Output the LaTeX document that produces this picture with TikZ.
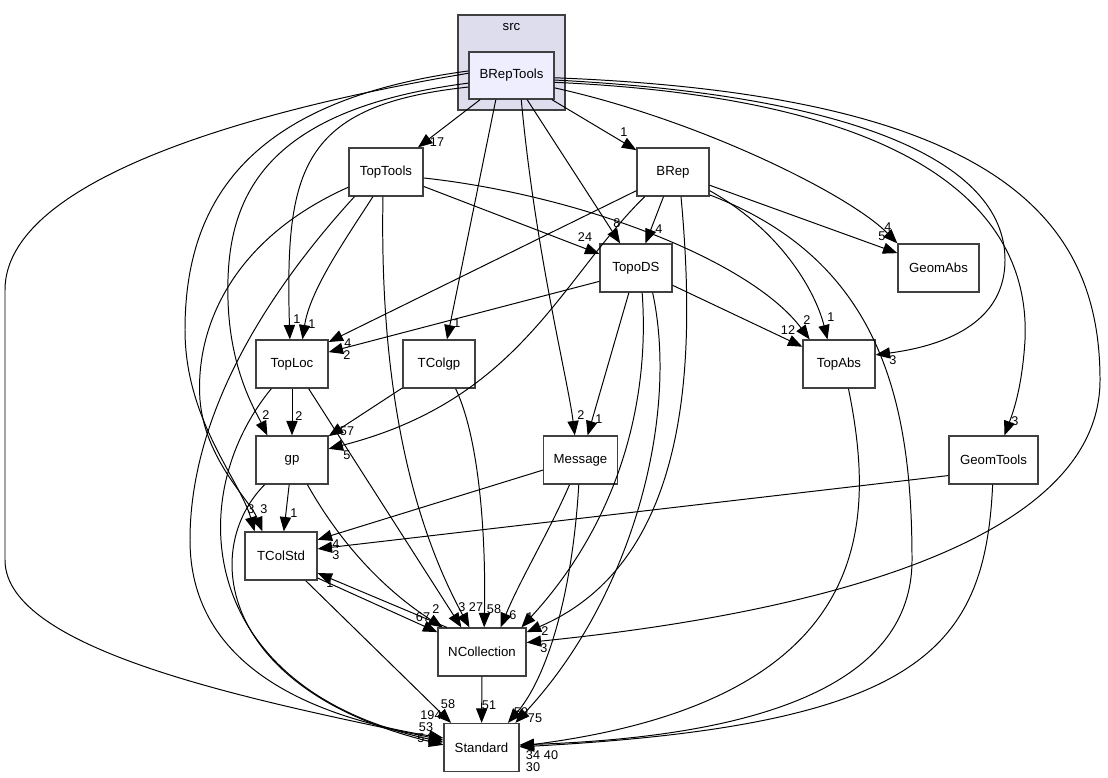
\documentclass[tikz,border=0pt]{standalone}
\usepackage{fontspec}
\setmainfont{Liberation Sans}
\usetikzlibrary{arrows.meta}
\definecolor{ink}{HTML}{000000}
\definecolor{boxline}{HTML}{404040}
\definecolor{grpfill}{HTML}{DDDDEE}
\definecolor{curfill}{HTML}{EEEEFF}

\begin{document}
\begin{tikzpicture}[x=0.025cm,y=-0.025cm, every node/.style={font=\fontsize{9.4}{11}\selectfont,inner sep=0pt}, dirbox/.style={draw=boxline,fill=white,line width=0.9pt,minimum width=1.8cm,minimum height=1.2cm}, cur/.style={dirbox,fill=curfill,minimum width=2.125cm,minimum height=1.175cm}, grp/.style={draw=boxline,fill=grpfill,line width=0.9pt,minimum width=2.675cm,minimum height=2.375cm}, dep/.style={draw=ink,line width=0.7pt,-{Triangle[length=3.6mm,width=2.8mm]}}, lbl/.style={font=\fontsize{9}{10}\selectfont}]
\useasboundingbox (0,0) rectangle (1108,777);
% directories
\node[grp] (src) at (511.5,62.5) {};
\node (srcname) at (511.5,27) {src};
\node[cur] (BRepTools) at (511.5,75.5) {BRepTools};
\node[dirbox,minimum width=1.85cm] (TopTools) at (386,172) {TopTools};
\node[dirbox] (BRep) at (673,172) {BRep};
\node[dirbox] (TopoDS) at (636,268) {TopoDS};
\node[dirbox,minimum width=2.025cm] (GeomAbs) at (938.5,268) {GeomAbs};
\node[dirbox] (TopLoc) at (292,364) {TopLoc};
\node[dirbox] (TColgp) at (439,364) {TColgp};
\node[dirbox] (TopAbs) at (839,364) {TopAbs};
\node[dirbox] (gp) at (292,460) {gp};
\node[dirbox,minimum width=1.85cm] (Message) at (580.5,460) {Message};
\node[dirbox,minimum width=2.225cm] (GeomTools) at (993.5,460) {GeomTools};
\node[dirbox] (TColStd) at (281,556) {TColStd};
\node[dirbox,minimum width=2.2cm] (NCollection) at (482,652) {NCollection};
\node[dirbox,minimum width=1.875cm] (Standard) at (481.5,747.5) {Standard};
% BRepTools
\draw[dep] (BRepTools) -- (TopTools) node[lbl] at (437,142) {17};
\draw[dep] (BRepTools) -- (BRep) node[lbl] at (624,132) {1};
\draw[dep] (BRepTools) -- (TopoDS) node[lbl] at (617,223) {8};
\draw[dep] (BRepTools.-16) .. controls (700,120) and (850,195) .. (GeomAbs.north west) node[lbl] at (888,227) {4};
\draw[dep] (BRepTools.195) .. controls (300,105) and (285,170) .. (TopLoc.95) node[lbl] at (297,319) {1};
\draw[dep] (BRepTools.237) -- (TColgp.72) node[lbl] at (457,323) {1};
\draw[dep] (BRepTools.-6) .. controls (850,95) and (1005,160) .. (1005,260) .. controls (1005,320) and (950,345) .. (TopAbs.14) node[lbl] at (893,360) {3};
\draw[dep] (BRepTools.190) .. controls (260,110) and (225,200) .. (228,300) .. controls (230,370) and (255,410) .. (gp.135) node[lbl] at (266,415) {2};
\draw[dep] (BRepTools.292) .. controls (535,250) and (568,380) .. (Message.103) node[lbl] at (581,415) {2};
\draw[dep] (BRepTools.-9) .. controls (950,100) and (1030,230) .. (1025,340) .. controls (1022,390) and (1012,415) .. (GeomTools.66) node[lbl] at (1015,421) {3};
\draw[dep] (BRepTools.174) .. controls (250,100) and (185,200) .. (185,330) .. controls (185,420) and (240,480) .. (TColStd.137) node[lbl] at (251,509) {3};
\draw[dep] (BRepTools.-3) .. controls (1000,95) and (1100,220) .. (1100,380) .. controls (1100,560) and (750,620) .. (NCollection.12) node[lbl] at (544,648) {3};
\draw[dep] (BRepTools.177) .. controls (250,110) and (5,180) .. (5,290) -- (5,560) .. controls (5,650) and (250,700) .. (Standard.169) node[lbl] at (421,738) {5};
% TopTools
\draw[dep] (TopTools) -- (TopoDS) node[lbl] at (585,237) {24};
\draw[dep] (TopTools.-9) .. controls (580,195) and (750,260) .. (TopAbs.140) node[lbl] at (807,320) {2};
\draw[dep] (TopTools.242) .. controls (345,240) and (310,290) .. (TopLoc.67) node[lbl] at (312,324) {1};
\draw[dep] (TopTools.202) .. controls (230,240) and (195,330) .. (200,400) .. controls (205,460) and (250,500) .. (TColStd.127) node[lbl] at (264,509) {3};
\draw[dep] (TopTools.263) .. controls (380,350) and (400,500) .. (NCollection.117) node[lbl] at (476,607) {27};
\draw[dep] (TopTools.218) .. controls (260,300) and (190,420) .. (190,540) .. controls (190,660) and (300,715) .. (Standard.166) node[lbl] at (431,715) {194};
% TopLoc
\draw[dep] (TopLoc) -- (gp) node[lbl] at (299,416) {2};
\draw[dep] (TopLoc.-56) -- (NCollection.130) node[lbl] at (462,607) {3};
\draw[dep] (TopLoc.230) .. controls (180,500) and (200,690) .. (Standard.172) node[lbl] at (426,727) {53};
% TColgp
\draw[dep] (TColgp) -- (gp) node[lbl] at (347,431) {57};
\draw[dep] (TColgp.-56) .. controls (480,440) and (486,540) .. (NCollection.85) node[lbl] at (494,609) {58};
% gp
\draw[dep] (gp) -- (TColStd) node[lbl] at (294,513) {1};
\draw[dep] (gp.-58) .. controls (350,560) and (400,600) .. (NCollection.148) node[lbl] at (436,609) {2};
\draw[dep] (gp.222) .. controls (200,550) and (220,690) .. (Standard.176) node[lbl] at (431,738) {3};
% BRep
\draw[dep] (BRep) -- (TopoDS) node[lbl] at (659,229) {4};
\draw[dep] (BRep) -- (GeomAbs) node[lbl] at (882,236) {5};
\draw[dep] (BRep.207) -- (TopLoc.31) node[lbl] at (348,343) {4};
\draw[dep] (BRep.221) .. controls (560,280) and (520,400) .. (gp.17) node[lbl] at (347,455) {5};
\draw[dep] (BRep.-27) .. controls (780,230) and (815,290) .. (TopAbs.115) node[lbl] at (831,317) {1};
\draw[dep] (BRep.-72) .. controls (695,350) and (695,560) .. (NCollection.24) node[lbl] at (545,631) {2};
\draw[dep] (BRep.-32) .. controls (880,260) and (912,400) .. (912,560) .. controls (912,700) and (720,738) .. (Standard.4) node[lbl] at (533,755) {34};
% TopoDS
\draw[dep] (TopoDS.200) -- (TopLoc.18) node[lbl] at (347,355) {2};
\draw[dep] (TopoDS) -- (TopAbs) node[lbl] at (788,330) {12};
\draw[dep] (TopoDS) -- (Message) node[lbl] at (599,419) {1};
\draw[dep] (TopoDS.-76) .. controls (650,400) and (620,520) .. (NCollection.32) node[lbl] at (530,617) {1};
\draw[dep] (TopoDS.-56) .. controls (680,420) and (630,600) .. (Standard.36) node[lbl] at (535,718) {75};
% Message
\draw[dep] (Message.195) -- (TColStd.24) node[lbl] at (336,544) {4};
\draw[dep] (Message.246) .. controls (550,530) and (520,580) .. (NCollection.53) node[lbl] at (513,615) {6};
\draw[dep] (Message.266) .. controls (572,600) and (545,680) .. (Standard.43) node[lbl] at (521,712) {59};
% GeomTools
\draw[dep] (GeomTools.199) -- (TColStd.11) node[lbl] at (336,555) {3};
\draw[dep] (GeomTools.268) .. controls (985,650) and (920,725) .. (Standard.1) node[lbl] at (551,755) {40};
% TopAbs
\draw[dep] (TopAbs.-69) .. controls (875,520) and (880,700) .. (Standard.2) node[lbl] at (533,767) {30};
% TColStd, NCollection
\draw[dep] (TColStd.-31) -- (NCollection.156) node[lbl] at (423,617) {67};
\draw[dep] (NCollection.145) -- (TColStd.-25) node[lbl] at (330,583) {1};
\draw[dep] (TColStd.-45) -- (Standard.141) node[lbl] at (448,704) {58};
\draw[dep] (NCollection) -- (Standard) node[lbl] at (489,705) {51};
\end{tikzpicture}
\end{document}
